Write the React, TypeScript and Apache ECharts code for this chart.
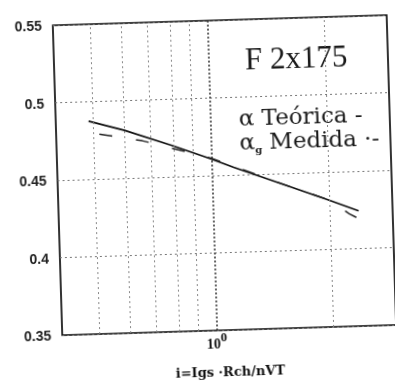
import React, { useEffect, useRef } from 'react';
import * as echarts from 'echarts';

// Teórica (solid) curve
const teoricaX = [0.486, 0.6, 0.79, 1.0, 1.14, 1.53, 1.98, 2.37];
const teoricaY = [0.4875, 0.4809, 0.4703, 0.4606, 0.4548, 0.4427, 0.4321, 0.4244];

// Medida (dashed) curve
const medidaX = [0.517, 0.666, 0.85, 1.0, 1.5, 2.0, 2.24, 2.37];
const medidaY = [0.4789, 0.4738, 0.4663, 0.4612, 0.4436, 0.4318, 0.4227, 0.4193];

// vertical dotted grid positions (log axis)
const xGridValues = [0.5, 0.6, 0.7, 0.8, 0.9, 1, 2];

const yMin = 0.35;
const yMax = 0.55;
const yStep = 0.05;
const xMin = 0.4;
const xMax = 2.9;

export default function App() {
  const ref = useRef<HTMLDivElement>(null);
  useEffect(() => {
    const chart = echarts.init(ref.current!, null, { renderer: 'svg' });
    chart.setOption({
      animation: false,
      backgroundColor: '#fff',
      grid: {
        left: 58,
        right: 3,
        top: 21,
        bottom: 56,
        show: true,
        borderColor: '#000',
        borderWidth: 1.6,
        backgroundColor: 'transparent',
      },
      xAxis: {
        type: 'log',
        logBase: 10,
        min: xMin,
        max: xMax,
        axisLine: { show: false },
        axisTick: { show: false },
        splitLine: { show: false },
        axisLabel: {
          margin: 0,
          formatter: (v: number) => (Math.abs(v - 1) < 1e-6 ? '{a|10}{b|0}' : ''),
          rich: {
            a: { fontFamily: 'Liberation Serif', fontWeight: 'bold', fontSize: 14, color: '#111', lineHeight: 20, verticalAlign: 'bottom' },
            b: { fontFamily: 'Liberation Serif', fontWeight: 'bold', fontSize: 13, color: '#111', verticalAlign: 'top' },
          },
        },
        name: 'i=Igs ·Rch/nVT',
        nameLocation: 'middle',
        nameGap: 35,
        nameTextStyle: {
          fontFamily: 'DejaVu Serif',
          fontWeight: 'bold',
          fontSize: 13,
          color: '#111',
        },
      },
      yAxis: {
        type: 'value',
        min: yMin,
        max: yMax,
        interval: yStep,
        axisLine: { show: false },
        axisTick: { show: false },
        axisLabel: {
          margin: 11,
          padding: [5, 0, 0, 0],
          fontFamily: 'Liberation Sans',
          fontWeight: 'bold',
          fontSize: 14,
          color: '#222',
        },
        splitLine: {
          show: true,
          lineStyle: { type: [2, 3], color: '#777', width: 1 },
        },
      },
      series: [
        {
          type: 'line',
          name: 'grid',
          data: [],
          z: 1,
          silent: true,
          markLine: {
            silent: true,
            symbol: ['none', 'none'],
            label: { show: false },
            lineStyle: { type: [2, 3], color: '#888', width: 1 },
            data: xGridValues.map((v) => ({
              xAxis: v,
              lineStyle:
                v === 1
                  ? { type: [2, 2], color: '#333', width: 1.5 }
                  : { type: [2, 3], color: '#888', width: 1 },
            })),
          },
        },
        {
          type: 'line',
          name: 'Teórica',
          data: teoricaX.map((x, i) => [x, teoricaY[i]]),
          symbol: 'none',
          z: 3,
          lineStyle: { color: '#111', width: 1.7, type: 'solid' },
        },
        {
          type: 'line',
          name: 'Medida',
          data: medidaX.map((x, i) => [x, medidaY[i]]),
          symbol: 'none',
          z: 3,
          lineStyle: { color: '#222', width: 1.5, type: [13, 24] },
        },
      ],
      graphic: [
        {
          type: 'text',
          left: 249,
          top: 45,
          style: {
            text: 'F 2x175',
            font: '31px "Liberation Serif"',
            fill: '#1a1a1a',
          },
        },
        {
          type: 'text',
          left: 241,
          top: 107,
          style: {
            text: 'α Teórica -',
            font: '23px "DejaVu Serif"',
            fill: '#1a1a1a',
          },
        },
        {
          type: 'text',
          left: 241,
          top: 131,
          style: {
            text: '{a|α}{s|g} Medida ·-',
            font: '23px "DejaVu Serif"',
            fill: '#1a1a1a',
            rich: {
              a: { font: '23px "DejaVu Serif"', fill: '#1a1a1a', lineHeight: 28 },
              s: { font: 'bold 10px "DejaVu Serif"', fill: '#1a1a1a', verticalAlign: 'bottom' },
            },
          },
        },
      ],
    });
    return () => chart.dispose();
  }, []);
  return (
    <div
      ref={ref}
      style={{
        position: 'fixed',
        left: 0,
        top: 0,
        width: 395,
        height: 387,
        background: '#fff',
        transform: 'rotate(-1.75deg)',
      }}
    />
  );
}
